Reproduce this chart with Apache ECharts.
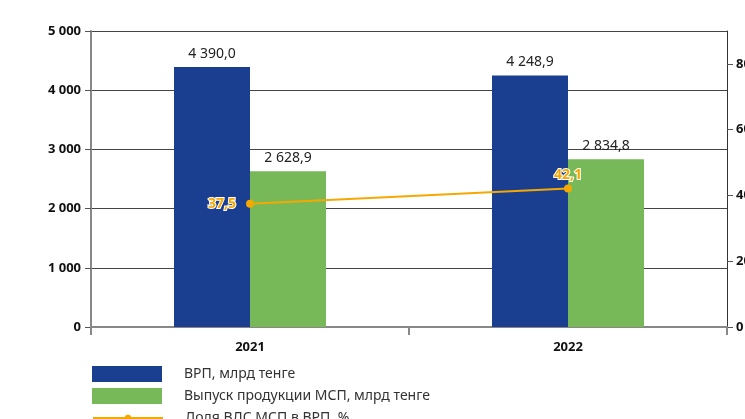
<!DOCTYPE html>
<html><head><meta charset="utf-8">
<script src="https://cdn.jsdelivr.net/npm/echarts@6/dist/echarts.min.js"></script>
<style>html,body{margin:0;padding:0;background:#fff}#c{width:745px;height:419px}</style>
</head><body><div id="c"></div>
<script>
const categories = ['2021', '2022'];
const grpValues = [4390.0, 4248.9];
const smeOutput = [2628.9, 2834.8];
const smeShare = [37.5, 42.1];
const leftTicks = [0, 1000, 2000, 3000, 4000, 5000];
const rightTicks = [0, 20, 40, 60, 80];
const seriesNames = ['ВРП, млрд тенге', 'Выпуск продукции МСП, млрд тенге', 'Доля ВДС МСП в ВРП, %'];

function fmt(v, dec) {
  const s = v.toFixed(dec);
  const parts = s.split('.');
  const intp = parts[0].replace(/\B(?=(\d{3})+(?!\d))/g, ' ');
  return parts.length > 1 ? intp + ',' + parts[1] : intp;
}

const chart = echarts.init(document.getElementById('c'), null, {renderer: 'canvas'});
const font = '"Noto Sans", sans-serif';
const legendText = {fontFamily: font, fontSize: 14, color: '#333', padding: [0, 0, 0, 17]};
const legendTops = [361, 383, 406];
chart.setOption({
  animation: false,
  textStyle: {fontFamily: font},
  grid: {left: 91, right: 18, top: 31, bottom: 92, containLabel: false, outerBoundsMode: 'none'},
  legend: seriesNames.map((n, i) => ({
    orient: 'vertical', left: 87, top: legendTops[i],
    itemWidth: 70, itemHeight: i < 2 ? 16 : 8,
    icon: i < 2 ? 'rect' : undefined,
    textStyle: legendText,
    data: [n]
  })),
  xAxis: {
    type: 'category', data: categories,
    axisLine: {lineStyle: {color: '#888', width: 2}},
    axisTick: {show: true, length: 8, lineStyle: {color: '#888', width: 2}},
    axisLabel: {fontFamily: font, fontSize: 13, fontWeight: 'bold', color: '#111', margin: 14}
  },
  yAxis: [{
    type: 'value', min: 0, max: 5000, interval: 1000,
    axisLine: {show: true, lineStyle: {color: '#888', width: 2}},
    axisTick: {show: true, length: 6, lineStyle: {color: '#555'}},
    splitLine: {show: true, lineStyle: {color: '#444', width: 1}},
    axisLabel: {fontFamily: font, fontSize: 13, fontWeight: 'bold', color: '#111', margin: 10,
      formatter: v => fmt(v, 0)}
  }, {
    type: 'value', min: 0, max: 90, position: 'right',
    axisLine: {show: true, lineStyle: {color: '#333', width: 1}},
    axisTick: {show: true, length: 6, lineStyle: {color: '#555'}, customValues: rightTicks},
    splitLine: {show: false},
    axisLabel: {fontFamily: font, fontSize: 13, fontWeight: 'bold', color: '#111', margin: 9,
      customValues: rightTicks, formatter: v => fmt(v, 0)}
  }],
  series: [{
    name: seriesNames[0], type: 'bar', data: grpValues, barWidth: 76, barGap: '0%',
    itemStyle: {color: '#1A3F90'},
    label: {show: true, position: 'top', distance: 6, fontFamily: font, fontSize: 14, color: '#222',
      formatter: p => fmt(p.value, 1)}
  }, {
    name: seriesNames[1], type: 'bar', data: smeOutput, barWidth: 76,
    itemStyle: {color: '#77B958'},
    label: {show: true, position: 'top', distance: 6, fontFamily: font, fontSize: 14, color: '#222',
      formatter: p => fmt(p.value, 1)}
  }, {
    name: seriesNames[2], type: 'line', yAxisIndex: 1,
    data: smeShare.map((v, i) => ({value: v, label: i === 0 ? {position: 'left', distance: 10} : {position: 'top', distance: 3}})),
    symbol: 'circle', symbolSize: 8,
    lineStyle: {color: '#F5A800', width: 2},
    itemStyle: {color: '#F5A800'},
    label: {show: true, fontFamily: font, fontSize: 14, fontWeight: 'bold', color: '#F5A800',
      textBorderColor: '#fff', textBorderWidth: 2,
      formatter: p => fmt(p.value, 1)}
  }]
});
</script></body></html>
